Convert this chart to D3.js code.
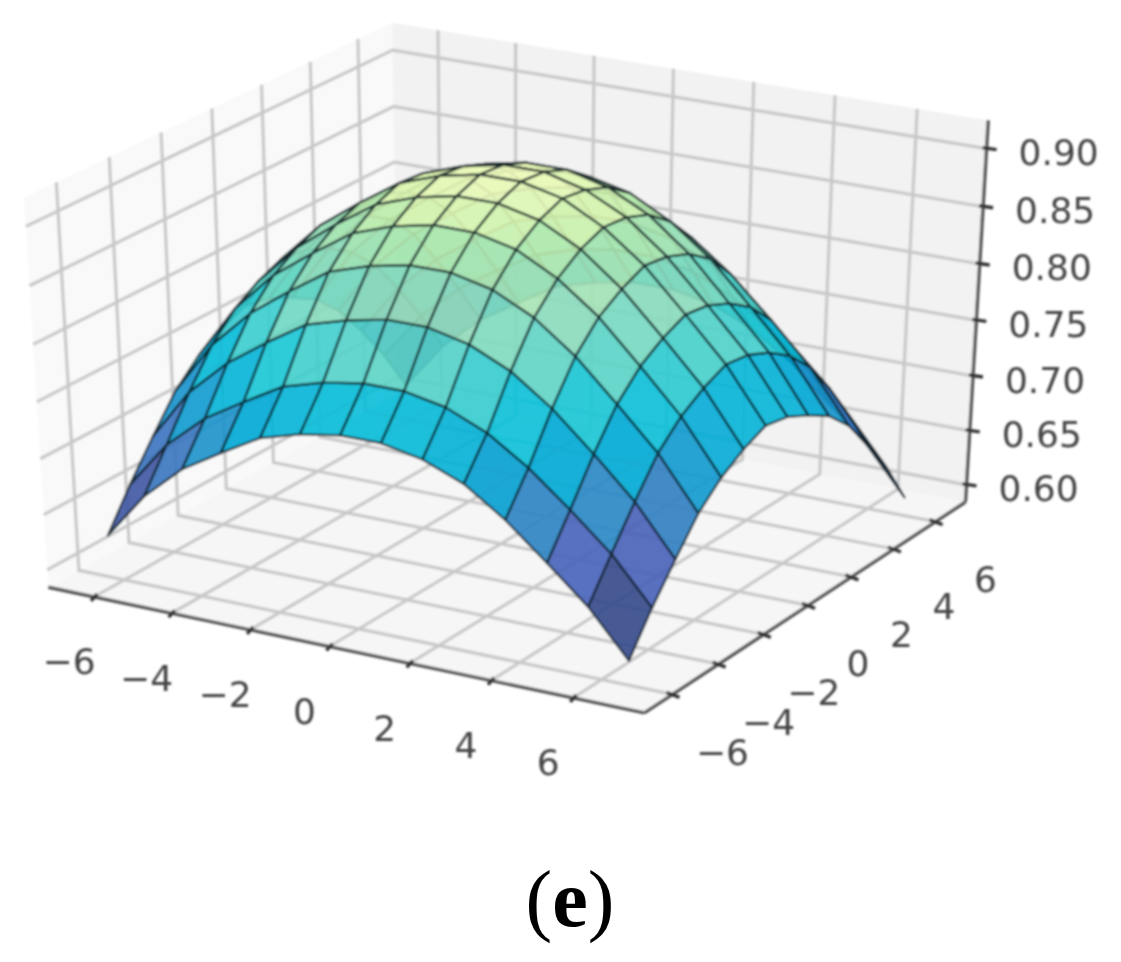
<!DOCTYPE html>
<html>
<head>
<meta charset="utf-8">
<script src="https://cdn.jsdelivr.net/npm/d3@7"></script>
<style>
  html, body { margin: 0; background: #fff; }
  text { font-family: "DejaVu Sans", sans-serif; fill: #444; }
</style>
</head>
<body>
<div id="chart"></div>
<script>
// axis limits and ticks
var xLim = [-7.19, 7.71];
var yLim = [-7.2, 7.46];
var zLim = [0.584, 0.924];
var xTicks = [-6, -4, -2, 0, 2, 4, 6];
var yTicks = [-6, -4, -2, 0, 2, 4, 6];
var zTicks = [0.60, 0.65, 0.70, 0.75, 0.80, 0.85, 0.90];

// surface grid positions
var xGrid = [-5.75, -4.76, -3.76, -2.77, -1.77, -0.78, 0.21, 1.2, 2.2, 3.19, 4.18, 5.18, 6.17, 7.16];
var yGrid = [-6.91, -5.96, -5.0, -4.05, -3.09, -2.14, -1.19, -0.23, 0.72, 1.68, 2.63, 3.58, 4.54, 5.49];

// z per y row (outer) and x column (inner)
var surfaceZ = [
  [.638, .680, .711, .732, .752, .762, .768, .768, .761, .747, .723, .693, .662, .622],
  [.672, .714, .744, .765, .785, .795, .801, .801, .794, .779, .756, .727, .696, .656],
  [.703, .749, .781, .805, .827, .837, .844, .844, .836, .820, .795, .763, .729, .686],
  [.732, .779, .813, .838, .861, .872, .879, .879, .871, .854, .828, .794, .759, .714],
  [.752, .800, .835, .860, .883, .895, .902, .902, .894, .876, .850, .815, .779, .733],
  [.764, .813, .848, .874, .897, .909, .916, .916, .908, .890, .863, .828, .792, .746],
  [.774, .822, .857, .882, .905, .917, .924, .924, .916, .898, .872, .837, .801, .755],
  [.770, .819, .854, .880, .903, .915, .922, .922, .913, .896, .869, .834, .798, .751],
  [.760, .810, .845, .871, .895, .907, .914, .914, .905, .888, .861, .825, .789, .741],
  [.748, .796, .831, .856, .879, .891, .898, .898, .890, .872, .846, .811, .775, .729],
  [.727, .774, .808, .832, .855, .866, .873, .873, .865, .848, .822, .789, .754, .709],
  [.698, .743, .775, .799, .821, .831, .838, .838, .830, .814, .789, .757, .724, .681],
  [.664, .707, .738, .761, .781, .792, .798, .798, .791, .775, .752, .721, .689, .648],
  [.625, .668, .699, .721, .742, .752, .758, .758, .751, .736, .712, .681, .650, .609]
];

// colormap stops, YlGnBu_r like as it looks in the picture
var colorDomain = [.659, .693, .726, .757, .79, .824, .86, .89, .905, .925];
var colorRange = ["#33498a", "#4961ba", "#2c84c3", "#00a6d5", "#0ac2d8", "#60d5c6", "#97deba", "#baebad", "#def6b1", "#f4fdbf"];

var width = 1121, height = 962;

var svg = d3.select("#chart").append("svg")
  .attr("width", width)
  .attr("height", height);

// the reference is a soft upscaled bitmap
var defs = svg.append("defs");
defs.append("filter").attr("id", "soft")
  .attr("x", "-5%").attr("y", "-5%").attr("width", "110%").attr("height", "110%")
  .append("feGaussianBlur").attr("stdDeviation", 1.1);

var g = svg.append("g").attr("filter", "url(#soft)");

var nx = d3.scaleLinear().domain(xLim).range([0, 1]);
var ny = d3.scaleLinear().domain(yLim).range([0, 1]);
var nz = d3.scaleLinear().domain(zLim).range([0, 1]);
var sx = d3.scaleLinear().domain([-1, 1]).range([514 - 688, 514 + 688]);
var sy = d3.scaleLinear().domain([-1, 1]).range([356 + 445, 356 - 445]);
var color = d3.scaleLinear().domain(colorDomain).range(colorRange).clamp(true);

// same view as matplotlib's default: elev 30, azim -60, dist 10
function project(x, y, z) {
  var px = nx(x) - 0.5, py = ny(y) - 0.5, pz = nz(z) - 0.5;
  var xv = 0.866 * px + 0.5 * py;
  var yv = -0.25 * px + 0.433 * py + 0.866 * pz;
  var zv = 0.433 * px - 0.75 * py + 0.5 * pz;
  var d = 10 - zv;
  return [sx(xv * 10 / d), sy(yv * 10 / d), d];
}

var line = d3.line();
function poly(pts) {
  return line(pts.map(function (p) { return project(p[0], p[1], p[2]).slice(0, 2); })) + "Z";
}

var x0 = xLim[0], x1 = xLim[1], y0 = yLim[0], y1 = yLim[1], z0 = zLim[0], z1 = zLim[1];

// panes
g.append("path").attr("d", poly([[x0, y0, z0], [x0, y1, z0], [x0, y1, z1], [x0, y0, z1]])).attr("fill", "#f9f9f9");
g.append("path").attr("d", poly([[x0, y1, z0], [x1, y1, z0], [x1, y1, z1], [x0, y1, z1]])).attr("fill", "#f2f2f2");
g.append("path").attr("d", poly([[x0, y0, z0], [x1, y0, z0], [x1, y1, z0], [x0, y1, z0]])).attr("fill", "#f6f6f6");

// grid lines
var gridLines = [];
xTicks.forEach(function (t) {
  gridLines.push([[t, y0, z0], [t, y1, z0], [t, y1, z1]]);
});
yTicks.forEach(function (t) {
  gridLines.push([[x1, t, z0], [x0, t, z0], [x0, t, z1]]);
});
zTicks.forEach(function (t) {
  gridLines.push([[x0, y0, t], [x0, y1, t], [x1, y1, t]]);
});
g.append("g").selectAll("path").data(gridLines).enter().append("path")
  .attr("d", function (d) { return line(d.map(function (p) { return project(p[0], p[1], p[2]).slice(0, 2); })); })
  .attr("fill", "none")
  .attr("stroke", "#c8c8c8")
  .attr("stroke-width", 3.2);

// axis lines
var axisLines = [
  [[x0, y0, z0], [x1, y0, z0]],
  [[x1, y0, z0], [x1, y1, z0]],
  [[x1, y1, z0], [x1, y1, z1]]
];
g.append("g").selectAll("path").data(axisLines).enter().append("path")
  .attr("d", function (d) { return line(d.map(function (p) { return project(p[0], p[1], p[2]).slice(0, 2); })); })
  .attr("fill", "none")
  .attr("stroke", "#555")
  .attr("stroke-width", 3.4);

// tick marks
xTicks.forEach(function (t) {
  var p = project(t, y0, z0);
  g.append("line").attr("x1", p[0] - 3).attr("y1", p[1] + 4).attr("x2", p[0] + 3).attr("y2", p[1] - 3)
    .attr("stroke", "#333").attr("stroke-width", 3.4);
  g.append("text").attr("x", p[0] - 25).attr("y", p[1] + 65)
    .attr("text-anchor", "middle").attr("dominant-baseline", "central")
    .attr("font-size", 36).text(String(t).replace("-", "\u2212"));
});
yTicks.forEach(function (t) {
  var p = project(x1, t, z0);
  g.append("line").attr("x1", p[0] - 6).attr("y1", p[1] - 2).attr("x2", p[0] + 7).attr("y2", p[1] + 3)
    .attr("stroke", "#333").attr("stroke-width", 3.4);
  g.append("text").attr("x", p[0] + 50).attr("y", p[1] + 58)
    .attr("text-anchor", "middle").attr("dominant-baseline", "central")
    .attr("font-size", 36).text(String(t).replace("-", "\u2212"));
});
zTicks.forEach(function (t) {
  var p = project(x1, y1, t);
  g.append("line").attr("x1", p[0] - 4).attr("y1", p[1] - 1).attr("x2", p[0] + 10).attr("y2", p[1] + 1)
    .attr("stroke", "#333").attr("stroke-width", 3.4);
  g.append("text").attr("x", p[0] + 32).attr("y", p[1] + 4)
    .attr("dominant-baseline", "central")
    .attr("font-size", 36).text(t.toFixed(2));
});

// surface quads, far ones first
var quads = [];
d3.range(yGrid.length - 1).forEach(function (j) {
  d3.range(xGrid.length - 1).forEach(function (i) {
    var pts = [
      [xGrid[i], yGrid[j], surfaceZ[j][i]],
      [xGrid[i + 1], yGrid[j], surfaceZ[j][i + 1]],
      [xGrid[i + 1], yGrid[j + 1], surfaceZ[j + 1][i + 1]],
      [xGrid[i], yGrid[j + 1], surfaceZ[j + 1][i]]
    ];
    quads.push({
      pts: pts,
      z: d3.mean(pts, function (p) { return p[2]; }),
      depth: d3.mean(pts, function (p) { return project(p[0], p[1], p[2])[2]; })
    });
  });
});
quads.sort(function (a, b) { return d3.descending(a.depth, b.depth); });

g.append("g").selectAll("path").data(quads).enter().append("path")
  .attr("d", function (d) { return poly(d.pts); })
  .attr("fill", function (d) { return color(d.z); })
  .attr("fill-opacity", 0.9)
  .attr("stroke", "#0e2026")
  .attr("stroke-opacity", 0.85)
  .attr("stroke-width", 2.3)
  .attr("stroke-linejoin", "round");

// panel label
var label = svg.append("text")
  .attr("x", 570).attr("y", 926)
  .attr("text-anchor", "middle")
  .style("font-family", "'Liberation Serif', serif")
  .style("font-size", "80px")
  .style("fill", "#000");
label.append("tspan").text("(");
label.append("tspan").style("font-weight", "bold").text("e");
label.append("tspan").text(")");
</script>
</body>
</html>
